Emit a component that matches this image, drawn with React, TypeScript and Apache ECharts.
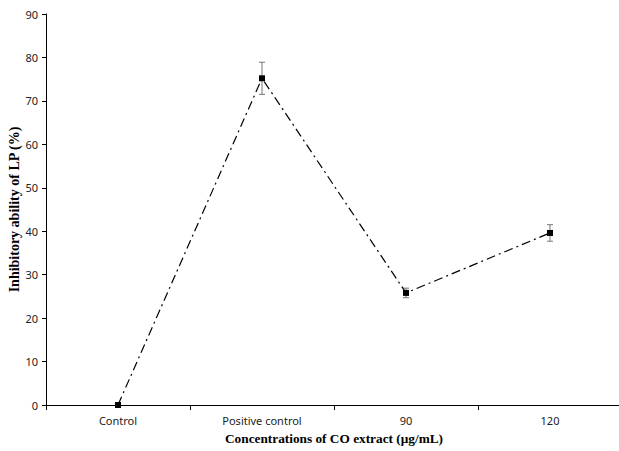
import React, { useEffect, useRef } from "react";
import * as echarts from "echarts";

const categories = ["Control", "Positive control", "90", "120"];
const values = [0, 75.2, 25.8, 39.6];
const errors = [0, 3.7, 1.1, 1.9];
const yTicks = [0, 10, 20, 30, 40, 50, 60, 70, 80, 90];

export default function App() {
  const ref = useRef<HTMLDivElement>(null);
  useEffect(() => {
    const chart = echarts.init(ref.current!, null, { renderer: "svg" });
    const errData = values.map((v, i) => [i, v - errors[i], v + errors[i]]);
    chart.setOption({
      animation: false,
      backgroundColor: "#fff",
      grid: { left: 46, right: -3, top: 14, bottom: 46, containLabel: false, outerBoundsMode: "none" },
      xAxis: {
        type: "category",
        data: categories,
        boundaryGap: true,
        axisLine: { lineStyle: { color: "#000", width: 1 } },
        axisTick: { show: true, length: 5, lineStyle: { color: "#000" } },
        axisLabel: { color: "#222", fontSize: 11, fontFamily: "Noto Sans", margin: 10 },
        name: "Concentrations of CO extract (μg/mL)",
        nameLocation: "middle",
        nameMoveOverlap: false,
        nameGap: 27,
        nameTextStyle: {
          color: "#000",
          fontSize: 13.3,
          fontWeight: "bold",
          fontFamily: "Liberation Serif",
        },
      },
      yAxis: {
        type: "value",
        min: 0,
        max: 90,
        interval: 10,
        splitLine: { show: false },
        axisLine: { show: true, lineStyle: { color: "#000", width: 1 } },
        axisTick: { show: true, length: 4, lineStyle: { color: "#000" } },
        axisLabel: {
          color: "#222",
          fontSize: 11,
          fontFamily: "Noto Sans",
          margin: 8,
          formatter: (v: number) => (yTicks.includes(v) ? String(v) : ""),
        },
        name: "Inhibitory ability of LP (%)",
        nameLocation: "middle",
        nameMoveOverlap: false,
        nameGap: 25,
        nameTextStyle: {
          color: "#000",
          fontSize: 14,
          fontWeight: "bold",
          fontFamily: "Liberation Serif",
        },
      },
      series: [
        {
          type: "line",
          data: values,
          symbol: "rect",
          symbolSize: 6,
          itemStyle: { color: "#000" },
          lineStyle: { color: "#000", width: 1.2, type: [9, 4, 2, 4] },
          z: 3,
        },
        {
          type: "custom",
          data: errData,
          z: 2,
          renderItem: (params: any, api: any) => {
            const x = api.value(0);
            const lo = api.coord([x, api.value(1)]);
            const hi = api.coord([x, api.value(2)]);
            if (Math.abs(hi[1] - lo[1]) < 0.5) return { type: "group", children: [] };
            const w = 3;
            const style = { stroke: "#777", lineWidth: 1 };
            return {
              type: "group",
              children: [
                { type: "line", shape: { x1: lo[0], y1: lo[1], x2: hi[0], y2: hi[1] }, style },
                { type: "line", shape: { x1: lo[0] - w, y1: lo[1], x2: lo[0] + w, y2: lo[1] }, style },
                { type: "line", shape: { x1: hi[0] - w, y1: hi[1], x2: hi[0] + w, y2: hi[1] }, style },
              ],
            };
          },
        },
      ],
    });
    return () => chart.dispose();
  }, []);
  return (
    <div
      ref={ref}
      style={{ position: "absolute", left: 0, top: 0, width: 619, height: 451 }}
    />
  );
}
